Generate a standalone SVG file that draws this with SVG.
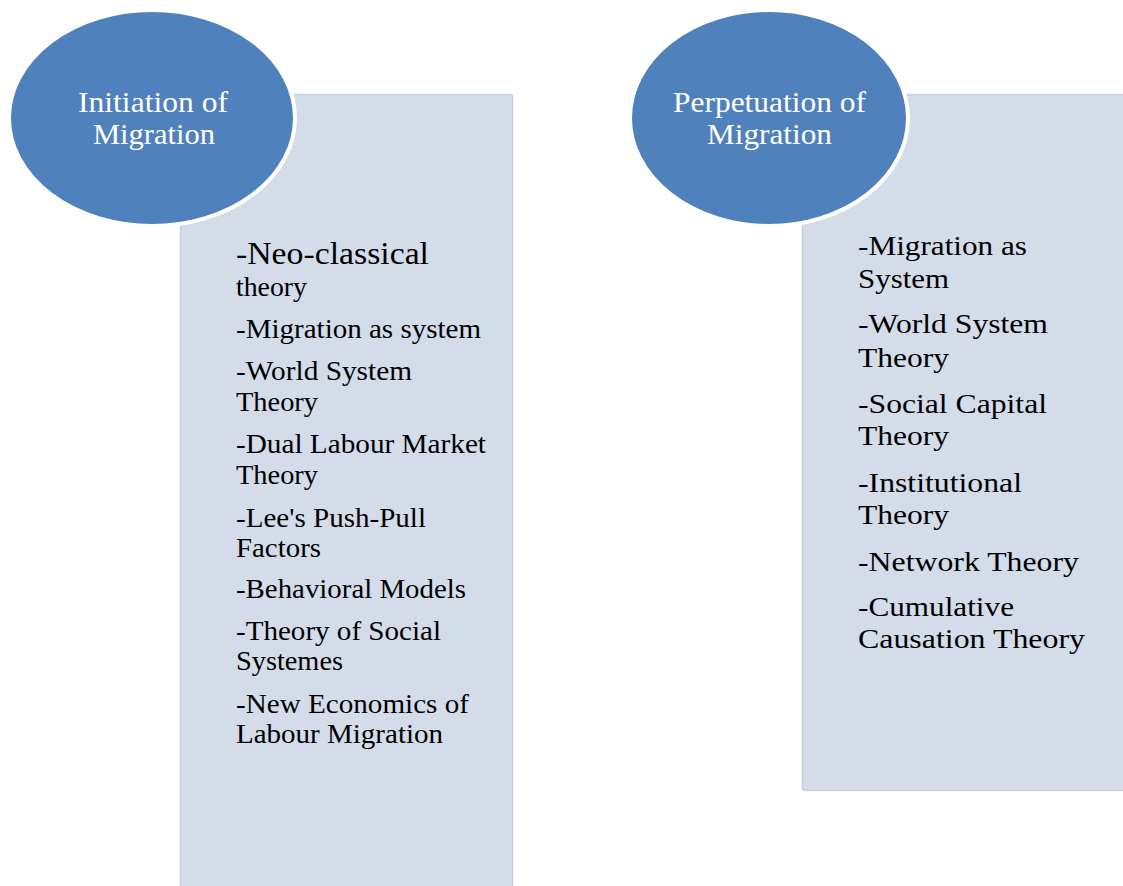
<svg xmlns="http://www.w3.org/2000/svg" width="1123" height="886" viewBox="0 0 1123 886">
  <style>
    .panel { fill: #d4dcea; stroke: #c8d0e1; stroke-width: 1.5; }
    .bubble { fill: #4f81bd; stroke: #ffffff; stroke-width: 4; }
    .title { font-family: "Liberation Serif", "Times New Roman", serif; font-size: 29px; fill: #ffffff; }
    .item { font-family: "Liberation Serif", "Times New Roman", serif; font-size: 28px; fill: #000000; }
    .item-lg { font-size: 31px; }
  </style>
  <rect width="1123" height="886" fill="#ffffff"/>

  <!-- Initiation group: list panel behind the title bubble -->
  <g id="initiation-list">
    <rect class="panel" x="180.5" y="94.5" width="332" height="800" rx="2"/>
    <text class="item item-lg" x="236" y="264" textLength="193" lengthAdjust="spacingAndGlyphs">-Neo-classical</text>
    <text class="item" x="236" y="296" textLength="71" lengthAdjust="spacingAndGlyphs">theory</text>
    <text class="item" x="236" y="338" textLength="245" lengthAdjust="spacingAndGlyphs">-Migration as system</text>
    <text class="item" x="236" y="380" textLength="176" lengthAdjust="spacingAndGlyphs">-World System</text>
    <text class="item" x="236" y="411" textLength="82" lengthAdjust="spacingAndGlyphs">Theory</text>
    <text class="item" x="236" y="453" textLength="250" lengthAdjust="spacingAndGlyphs">-Dual Labour Market</text>
    <text class="item" x="236" y="484" textLength="82" lengthAdjust="spacingAndGlyphs">Theory</text>
    <text class="item" x="236" y="527" textLength="190" lengthAdjust="spacingAndGlyphs">-Lee's Push-Pull</text>
    <text class="item" x="236" y="557" textLength="85" lengthAdjust="spacingAndGlyphs">Factors</text>
    <text class="item" x="236" y="598" textLength="230" lengthAdjust="spacingAndGlyphs">-Behavioral Models</text>
    <text class="item" x="236" y="640" textLength="205" lengthAdjust="spacingAndGlyphs">-Theory of Social</text>
    <text class="item" x="236" y="670" textLength="107" lengthAdjust="spacingAndGlyphs">Systemes</text>
    <text class="item" x="236" y="713" textLength="233" lengthAdjust="spacingAndGlyphs">-New Economics of</text>
    <text class="item" x="236" y="743" textLength="207" lengthAdjust="spacingAndGlyphs">Labour Migration</text>
  </g>
  <g id="initiation-title">
    <ellipse class="bubble" cx="152" cy="118" rx="143" ry="108"/>
    <text class="title" x="78" y="112" textLength="150" lengthAdjust="spacingAndGlyphs">Initiation of</text>
    <text class="title" x="93" y="144" textLength="122" lengthAdjust="spacingAndGlyphs">Migration</text>
  </g>

  <!-- Perpetuation group: list panel behind the title bubble -->
  <g id="perpetuation-list">
    <rect class="panel" x="802.5" y="94.5" width="330" height="696" rx="2"/>
    <text class="item" x="858" y="255" textLength="169" lengthAdjust="spacingAndGlyphs">-Migration as</text>
    <text class="item" x="858" y="288" textLength="91" lengthAdjust="spacingAndGlyphs">System</text>
    <text class="item" x="858" y="333" textLength="190" lengthAdjust="spacingAndGlyphs">-World System</text>
    <text class="item" x="858" y="367" textLength="91" lengthAdjust="spacingAndGlyphs">Theory</text>
    <text class="item" x="858" y="413" textLength="189" lengthAdjust="spacingAndGlyphs">-Social Capital</text>
    <text class="item" x="858" y="445" textLength="91" lengthAdjust="spacingAndGlyphs">Theory</text>
    <text class="item" x="858" y="492" textLength="164" lengthAdjust="spacingAndGlyphs">-Institutional</text>
    <text class="item" x="858" y="524" textLength="91" lengthAdjust="spacingAndGlyphs">Theory</text>
    <text class="item" x="858" y="571" textLength="221" lengthAdjust="spacingAndGlyphs">-Network Theory</text>
    <text class="item" x="858" y="616" textLength="156" lengthAdjust="spacingAndGlyphs">-Cumulative</text>
    <text class="item" x="858" y="648" textLength="227" lengthAdjust="spacingAndGlyphs">Causation Theory</text>
  </g>
  <g id="perpetuation-title">
    <ellipse class="bubble" cx="769" cy="118" rx="139" ry="108"/>
    <text class="title" x="673" y="112" textLength="193" lengthAdjust="spacingAndGlyphs">Perpetuation of</text>
    <text class="title" x="707" y="144" textLength="125" lengthAdjust="spacingAndGlyphs">Migration</text>
  </g>

  <!-- no connectors are drawn between the groups -->
  <g id="connectors"/>
</svg>
